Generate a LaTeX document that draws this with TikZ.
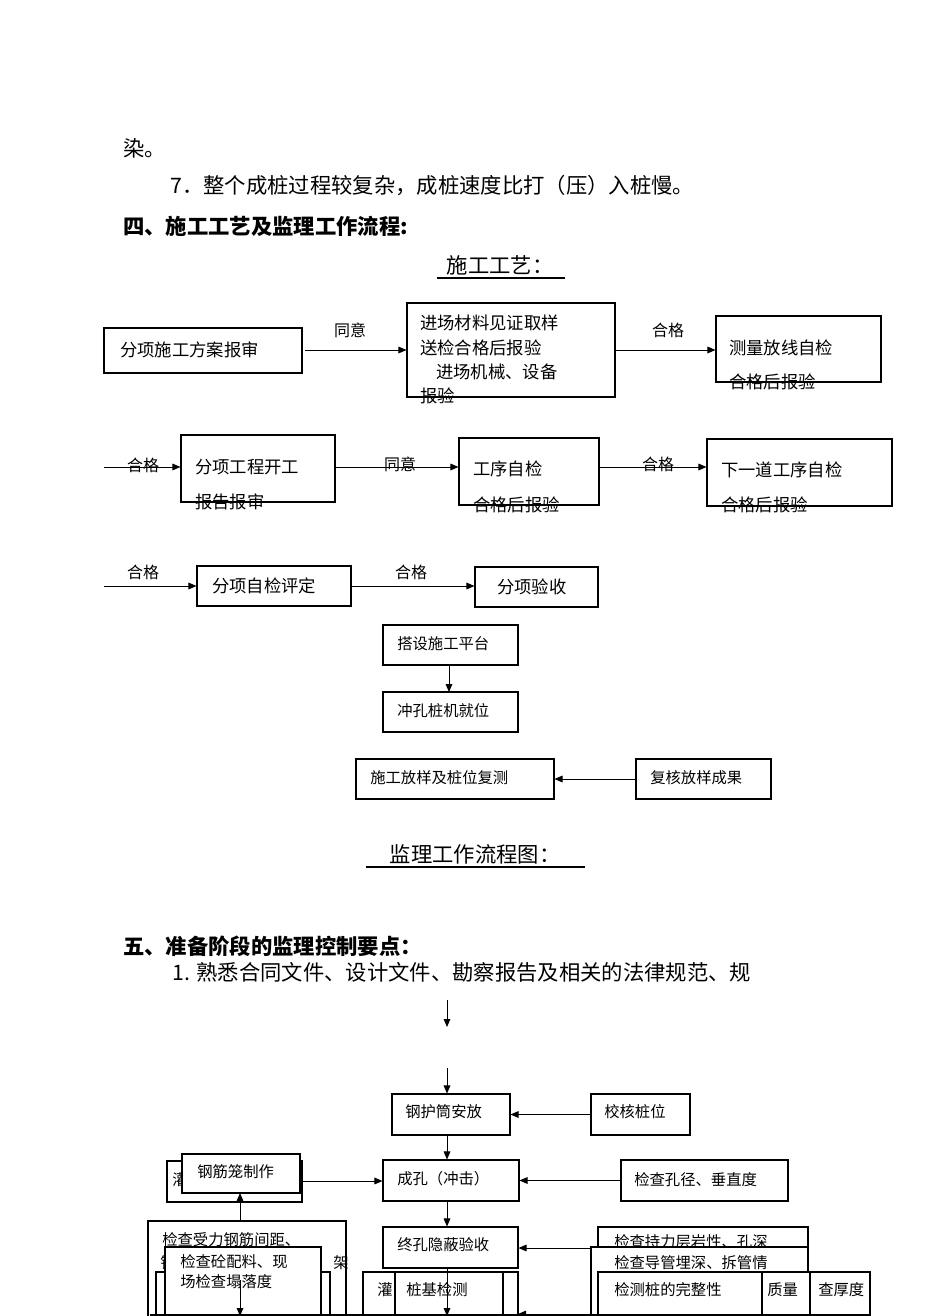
\documentclass[tikz,border=0pt]{standalone}
\usepackage{fontspec}
\setmainfont{Liberation Serif}
\newfontfamily\cjk{Noto Sans CJK SC}
\usetikzlibrary{fit,arrows.meta}
\tikzset{
 bx/.style={draw,fill=white,inner sep=0pt,line width=0.8pt},
 arr/.style={-{Triangle[length=6pt,width=5pt]},line width=0.7pt},
 big/.style={font=\cjk\fontsize{16pt}{18pt}\selectfont,inner sep=0,anchor=west},
 mid/.style={font=\cjk\fontsize{13pt}{15pt}\selectfont,inner sep=0,anchor=west},
 sm/.style={font=\cjk\fontsize{11.5pt}{13pt}\selectfont,inner sep=0,anchor=west},
 lab/.style={font=\cjk\fontsize{12pt}{14pt}\selectfont,inner sep=0},
}
\newcommand{\bxx}[5]{\node[bx,fit={(#2,#3)(#4,#5)}] (#1) {};}
\begin{document}
\begin{tikzpicture}[x=0.75pt,y=-0.75pt]
\useasboundingbox (0,0) rectangle (950,1316);
\clip (0,0) rectangle (950,1316);
\fill[white] (0,0) rectangle (950,1316);
% text
\node[big] (t1) at (123,148) {染。};
\node[big] (t2) at (170,186) {7．整个成桩过程较复杂，成桩速度比打（压）入桩慢。};
\node[big,font=\cjk\bfseries\fontsize{16pt}{18pt}\selectfont] (t3) at (123,226) {四、施工工艺及监理工作流程:};
\node[big,anchor=center] (t4) at (500,265) {施工工艺：};
\draw[line width=0.8pt] (437,278) -- (565,278);
% row1
\bxx{A}{104}{328}{302}{373}
\node[mid] (At) at (120,350) {分项施工方案报审};
\bxx{B}{407}{303}{615}{397}
\node[mid] (Bt1) at (420,323) {进场材料见证取样};
\node[mid] (Bt2) at (420,348) {送检合格后报验};
\node[mid] (Bt3) at (436,372) {进场机械、设备};
\node[mid] (Bt4) at (420,396) {报验};
\bxx{C}{716}{316}{881}{382}
\node[mid] (Ct1) at (729,348) {测量放线自检};
\node[mid] (Ct2) at (729,382) {合格后报验};
\draw[arr] (305,350) -- (B.west|-0,350);
\node[lab] (l1) at (350,330) {同意};
\draw[arr] (B.east|-0,350) -- (C.west|-0,350);
\node[lab] (l2) at (668,330) {合格};
% row2
\coordinate (s2) at (104,467);
\bxx{D}{181}{435}{335}{502}
\node[mid] (Dt1) at (195,467) {分项工程开工};
\node[mid] (Dt2) at (195,502) {报告报审};
\bxx{E}{459}{438}{599}{505}
\node[mid] (Et1) at (473,469) {工序自检};
\node[mid] (Et2) at (473,505) {合格后报验};
\bxx{F}{707}{439}{892}{506}
\node[mid] (Ft1) at (721,470) {下一道工序自检};
\node[mid] (Ft2) at (721,505) {合格后报验};
\draw[arr] (s2) -- (D.west|-s2);
\node[lab] (l3) at (143,465) {合格};
\draw[arr] (D.east|-s2) -- (E.west|-s2);
\node[lab] (l4) at (400,464) {同意};
\draw[arr] (E.east|-s2) -- (F.west|-s2);
\node[lab] (l5) at (658,464) {合格};
% row3
\coordinate (s3) at (104,586);
\bxx{G}{197}{566}{351}{606}
\node[mid] (Gt) at (212,586) {分项自检评定};
\bxx{H}{475}{567}{598}{607}
\node[mid] (Ht) at (497,587) {分项验收};
\draw[arr] (s3) -- (G.west|-s3);
\node[lab] (l6) at (143,572) {合格};
\draw[arr] (G.east|-s3) -- (H.west|-s3);
\node[lab] (l7) at (411,572) {合格};
\bxx{I}{383}{625}{518}{665}
\node[sm] (It) at (397,644) {搭设施工平台};
\bxx{J}{383}{692}{518}{732}
\node[sm] (Jt) at (397,711) {冲孔桩机就位};
\draw[arr] (449,665) -- (449,692);
\bxx{K}{356}{759}{554}{799}
\node[sm] (Kt) at (370,778) {施工放样及桩位复测};
\bxx{L}{636}{759}{771}{799}
\node[sm] (Lt) at (650,778) {复核放样成果};
\draw[arr] (L.west) -- (K.east);
% headings
\node[big,anchor=center] (t5) at (475,854) {监理工作流程图：};
\draw[line width=0.8pt] (366,867) -- (585,867);
\node[big,font=\cjk\bfseries\fontsize{16pt}{18pt}\selectfont] (t6) at (123,946) {五、准备阶段的监理控制要点：};
\node[big] (t7) at (172,972) {1. 熟悉合同文件、设计文件、勘察报告及相关的法律规范、规};
\coordinate (a1) at (447,1000); \coordinate (a2) at (447,1027);
\draw[arr] (a1) -- (a2);
% lower flow
\coordinate (a3) at (447,1068);
\bxx{M}{392}{1094}{510}{1135}
\node[sm] (Mt) at (405,1112) {钢护筒安放};
\bxx{N}{591}{1094}{690}{1135}
\node[sm] (Nt) at (604,1112) {校核桩位};
\draw[arr] (a3) -- (M.north-|a3);
\draw[arr] (N.west) -- (M.east);
\bxx{O}{383}{1160}{519}{1201}
\node[sm] (Ot) at (397,1179) {成孔（冲击）};
\bxx{P}{621}{1160}{788}{1201}
\node[sm] (Pt) at (634,1180) {检查孔径、垂直度};
\draw[arr] (M.south-|a3) -- (O.north-|a3);
\draw[arr] (P.west) -- (O.east);
\bxx{Q}{167}{1161}{302}{1202}
\node[sm] (Qt) at (172,1180) {灌};
\bxx{R}{182}{1154}{300}{1193}
\node[sm] (Rt) at (197,1172) {钢筋笼制作};
\draw[arr] (302,1181) -- (O.west|-0,1181);
\bxx{S}{383}{1227}{518}{1268}
\node[sm] (St) at (397,1245) {终孔隐蔽验收};
\draw[arr] (O.south-|a3) -- (S.north-|a3);
\coordinate (sr) at (600,1248);
\draw[arr] (sr) -- (S.east|-sr);
% left bottom
\bxx{T}{148}{1221}{346}{1330}
\node[sm] (Tt1) at (162,1240) {检查受力钢筋间距、};
\node[sm] (Tt2) at (160,1263) {钢};
\node[sm] (Tt3) at (333,1263) {架};
\draw[arr] (240,1221) -- (240,1193);
\bxx{V}{156}{1272}{330}{1330}
\bxx{U}{165}{1247}{321}{1330}
\node[sm] (Ut1) at (180,1262) {检查砼配料、现};
\node[sm] (Ut2) at (180,1282) {场检查塌落度};
\draw[arr] (240,1280) -- (240,1316);
% center bottom
\bxx{W}{363}{1272}{518}{1330}
\node[sm] (Wt) at (377,1290) {灌};
\bxx{X}{395}{1272}{503}{1330}
\node[sm] (Xt) at (406,1290) {桩基检测};
\draw (447,1268) -- (447,1290);
\draw[arr] (447,1290) -- (447,1316);
% right bottom
\bxx{Y}{598}{1227}{808}{1330}
\node[sm] (Yt) at (614,1242) {检查持力层岩性、孔深};
\bxx{Z}{591}{1247}{808}{1330}
\node[sm] (Zt) at (614,1263) {检查导管埋深、拆管情};
\bxx{AA}{598}{1272}{870}{1330}
\node[sm] (AAt1) at (767,1290) {质量};
\node[sm] (AAt2) at (818,1290) {查厚度};
\draw[line width=0.8pt] (810,1272) -- (810,1330);
\bxx{AB}{598}{1272}{762}{1330}
\node[sm] (ABt) at (614,1290) {检测桩的完整性};
\coordinate (br) at (598,1314);
\draw[arr] (br) -- (518,1314);
\draw[line width=0.8pt] (150,1315) -- (870,1315);
\end{tikzpicture}
\end{document}
